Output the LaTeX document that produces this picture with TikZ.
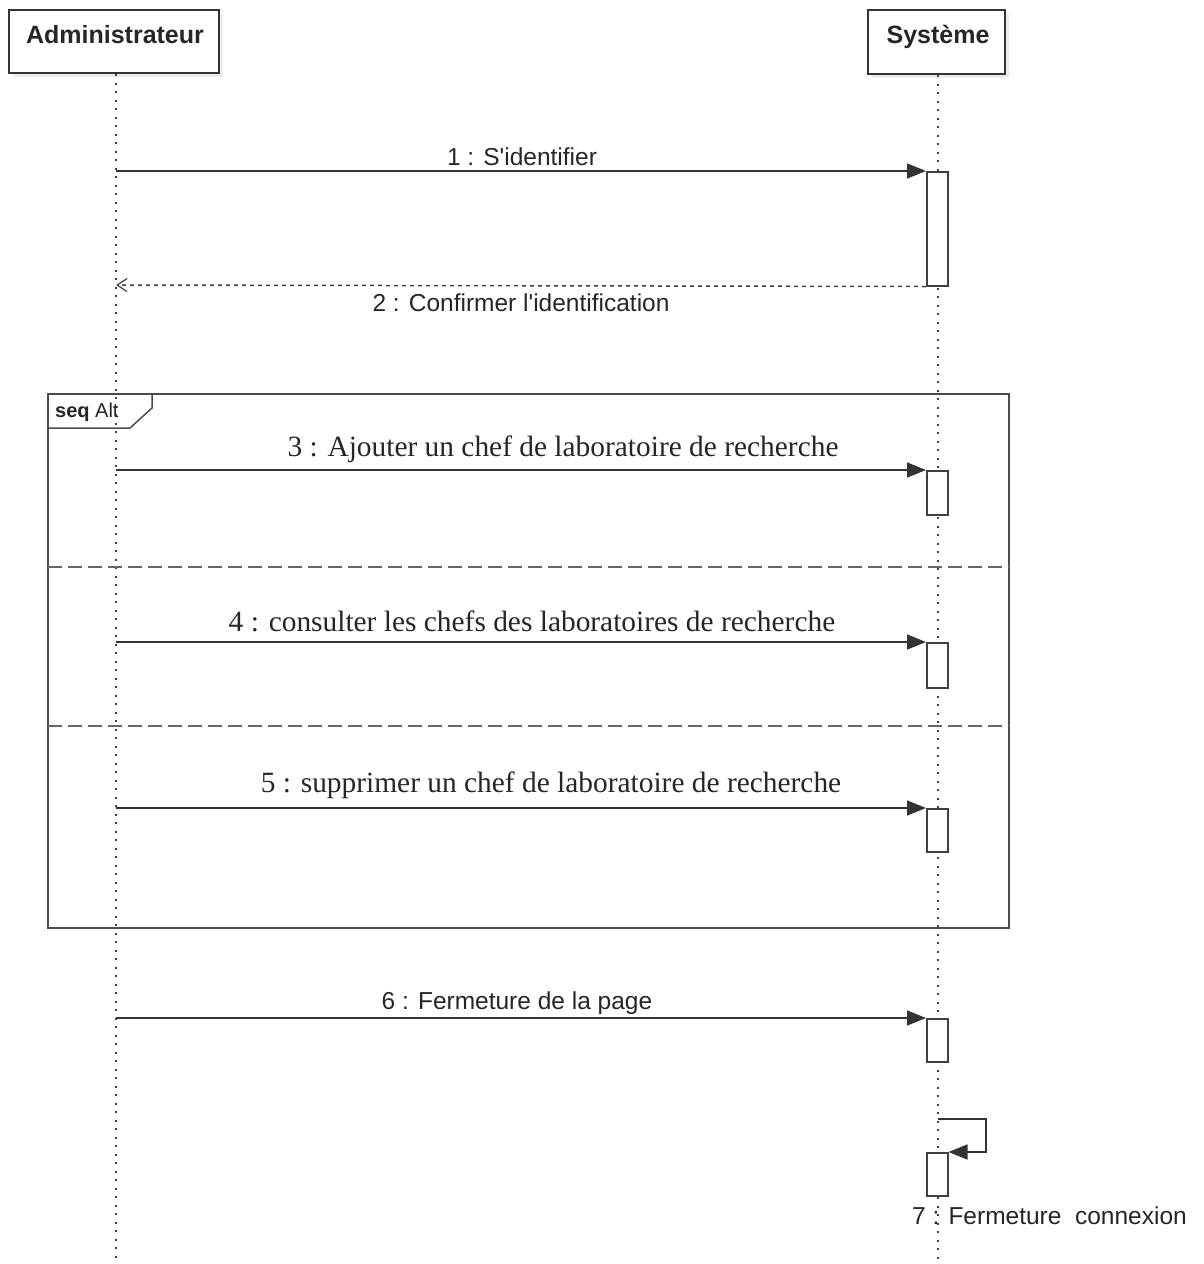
\documentclass[tikz,border=0pt]{standalone}
\usepackage{fontspec}
\setmainfont{Liberation Serif}
\setsansfont{Liberation Sans}
\usetikzlibrary{arrows.meta,shadows}
\begin{document}
\begin{tikzpicture}[x=1pt,y=-1pt,
  actor/.style={draw=black!80,line width=1.6pt,fill=white,inner sep=0pt,
    drop shadow={shadow xshift=4pt,shadow yshift=-4pt,opacity=0.15}},
  lifeline/.style={line width=1.9pt,dash pattern=on 2pt off 6.5pt,black!75},
  act/.style={draw=black!75,line width=1.5pt,fill=white},
  msg/.style={line width=1.6pt,black!80,-{Triangle[length=19pt,width=15pt]}},
  ret/.style={line width=1.5pt,black!75,dash pattern=on 4pt off 4pt,
    -{Straight Barb[length=10pt,width=13pt,line width=1.2pt]}},
  sanslbl/.style={font=\sffamily\fontsize{24.5}{27}\selectfont,text=black!85,inner sep=0pt},
  seriflbl/.style={font=\fontsize{29.4}{32}\selectfont,text=black!85,inner sep=0pt},
  frame/.style={draw=black!70,line width=1.5pt},
  sep/.style={draw=black!60,line width=1.5pt,dash pattern=on 14pt off 6pt}]
\useasboundingbox (0,0) rectangle (1203,1264);
\fill[white] (0,0) rectangle (1203,1264);

% participants
\node[actor,minimum width=210pt,minimum height=63pt] (admin) at (114,41.5) {};
\node[font=\sffamily\bfseries\fontsize{25}{28}\selectfont,text=black!85,inner sep=0pt,anchor=base] (adminlbl) at (115,43) {Administrateur};
\node[actor,minimum width=137pt,minimum height=64pt] (sys) at (936.5,42) {};
\node[font=\sffamily\bfseries\fontsize{25}{28}\selectfont,text=black!85,inner sep=0pt,anchor=base] (syslbl) at (938,43) {Système};

% lifelines
\coordinate (aEnd) at (116,1264);
\coordinate (sEnd) at (938,1264);
\draw[lifeline] (116,74) -- (aEnd);
\draw[lifeline] (938,75) -- (sEnd);

% activation bars
\node[act,minimum width=21pt,minimum height=114pt,inner sep=0pt,anchor=north west] (a1) at (926,171) {};
\node[act,minimum width=21pt,minimum height=44pt,inner sep=0pt,anchor=north west] (a3) at (926,470) {};
\node[act,minimum width=21pt,minimum height=45pt,inner sep=0pt,anchor=north west] (a4) at (926,642) {};
\node[act,minimum width=21pt,minimum height=43pt,inner sep=0pt,anchor=north west] (a5) at (926,808) {};
\node[act,minimum width=21pt,minimum height=43pt,inner sep=0pt,anchor=north west] (a6) at (926,1018) {};
\node[act,minimum width=21pt,minimum height=43pt,inner sep=0pt,anchor=north west] (a7) at (926,1152) {};

% sources on the actor lifeline
\coordinate (s1) at (116,171);
\coordinate (r2) at (116,285);
\coordinate (s3) at (116,470);
\coordinate (s4) at (116,642);
\coordinate (s5) at (116,808);
\coordinate (s6) at (116,1018);

% messages
\draw[msg] (s1) -- (a1.north west);
\node[sanslbl] (m1) at (522,157) {1 : S\textquotesingle identifier};
\draw[ret] (a1.south west) -- (r2);
\node[sanslbl] (m2) at (521,303) {2 : Confirmer l\textquotesingle identification};

% combined fragment
\draw[frame] (48,394) rectangle (1009,928);
\draw[frame] (48,428) -- (130,428) -- (152,408) -- (152,394);
\node[font=\sffamily\fontsize{20}{22}\selectfont,text=black!85,inner sep=0pt,anchor=west] (tag) at (55,412) {\textbf{seq} Alt};
\draw[sep] (48,567) -- (1009,567);
\draw[sep] (48,726) -- (1009,726);

\draw[msg] (s3) -- (a3.north west);
\node[seriflbl] (m3) at (563,449) {3 : Ajouter un chef de laboratoire de recherche};
\draw[msg] (s4) -- (a4.north west);
\node[seriflbl] (m4) at (532,621) {4 : consulter les chefs des laboratoires de recherche};
\draw[msg] (s5) -- (a5.north west);
\node[seriflbl] (m5) at (551,785) {5 : supprimer un chef de laboratoire de recherche};

\draw[msg] (s6) -- (a6.north west);
\node[sanslbl] (m6) at (517,1003) {6 : Fermeture de la page};

% self message
\coordinate (self0) at (938,1119);
\draw[msg] (self0) -- (986,1119) -- (986,1152) -- (a7.north east);
\node[sanslbl,anchor=west] (m7) at (912,1216) {7 : Fermeture\ \ connexion};
\end{tikzpicture}
\end{document}
